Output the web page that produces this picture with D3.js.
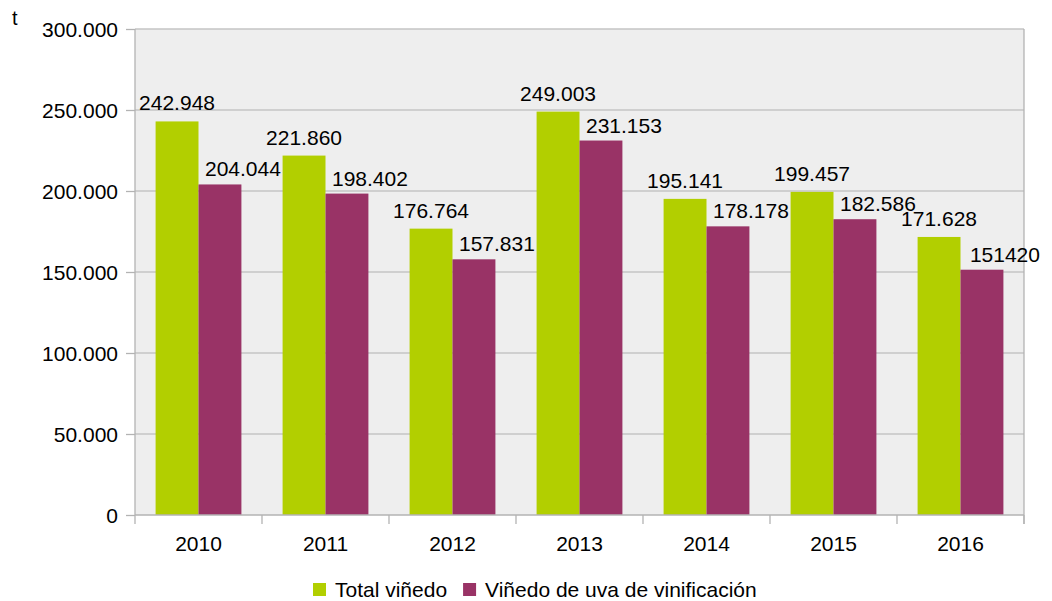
<!DOCTYPE html>
<html>
<head>
<meta charset="utf-8">
<script src="https://cdn.jsdelivr.net/npm/d3@7"></script>
<style>
  html, body { margin: 0; padding: 0; background: #ffffff; }
  svg { display: block; font-family: "Liberation Sans", Arial, sans-serif; }
</style>
</head>
<body>
<svg id="chart" width="1052" height="601"></svg>
<script>
const categories = ["2010", "2011", "2012", "2013", "2014", "2015", "2016"];
const seriesNames = ["Total viñedo", "Viñedo de uva de vinificación"];
const totalVinedo = [242948, 221860, 176764, 249003, 195141, 199457, 171628];
const vinedoVinificacion = [204044, 198402, 157831, 231153, 178178, 182586, 151420];
const totalLabels = ["242.948", "221.860", "176.764", "249.003", "195.141", "199.457", "171.628"];
const vinifLabels = ["204.044", "198.402", "157.831", "231.153", "178.178", "182.586", "151420"];
const yTicks = [0, 50000, 100000, 150000, 200000, 250000, 300000];
const colors = ["#b2cf00", "#993366"];

(function () {
const svg = d3.select("#chart");
const pL = 135, pR = 1024, pT = 29, pB = 515;

const loc = d3.formatLocale({decimal: ",", thousands: ".", grouping: [3], currency: ["", ""]});
const fmt = loc.format(",d");

const xCat = d3.scaleBand().domain(categories).range([pL, pR]).padding(0);
const xSub = d3.scaleBand().domain([0, 1]).range([0, xCat.bandwidth()])
  .paddingInner(0).paddingOuter(0.48);
const y = d3.scaleLinear().domain([0, 300000]).range([pB, pT]);

// plot background
svg.append("rect").attr("x", pL).attr("y", pT).attr("width", pR - pL).attr("height", pB - pT)
  .attr("fill", "#eeeeee");

// gridlines
svg.append("g").selectAll("line").data(yTicks.filter(d => d > 0)).join("line")
  .attr("x1", pL).attr("x2", pR)
  .attr("y1", d => y(d)).attr("y2", d => y(d))
  .attr("stroke", "#c4c4c4").attr("stroke-width", 1.3);

// bars
const series = [totalVinedo, vinedoVinificacion];
const barsG = svg.append("g");
series.forEach((vals, si) => {
  barsG.selectAll(null).data(vals).join("rect")
    .attr("x", (d, i) => xCat(categories[i]) + xSub(si))
    .attr("y", d => y(d))
    .attr("width", xSub.bandwidth())
    .attr("height", d => y(0) - y(d))
    .attr("fill", colors[si]);
});

// right border
svg.append("line").attr("x1", pR).attr("x2", pR).attr("y1", pT).attr("y2", pB + 9)
  .attr("stroke", "#b3b3b3").attr("stroke-width", 1.3);

// left axis
const yAxis = d3.axisLeft(y).tickValues(yTicks).tickSize(9).tickPadding(8)
  .tickFormat(d => d === 0 ? "0" : fmt(d));
const gy = svg.append("g").attr("transform", `translate(${pL},0)`).call(yAxis);
gy.select(".domain").attr("stroke", "#b3b3b3").attr("stroke-width", 1.3).attr("d", `M0,${pT}V${pB}`);
gy.selectAll(".tick line").attr("stroke", "#b3b3b3").attr("stroke-width", 1.3);
gy.selectAll(".tick text").attr("fill", "#000").style("font-size", "21px")
  .style("font-family", "'Liberation Sans', Arial, sans-serif").attr("dy", "0.36em");

// bottom axis
const gx = svg.append("g");
gx.append("line").attr("x1", pL).attr("x2", pR).attr("y1", pB).attr("y2", pB)
  .attr("stroke", "#b3b3b3").attr("stroke-width", 1.3);
const boundaries = categories.map(c => xCat(c)).concat([xCat.range()[1]]);
gx.selectAll("line.tk").data(boundaries).join("line").attr("class", "tk")
  .attr("x1", d => d).attr("x2", d => d).attr("y1", pB).attr("y2", pB + 9)
  .attr("stroke", "#b3b3b3").attr("stroke-width", 1.3);
gx.selectAll("text").data(categories).join("text")
  .attr("x", d => xCat(d) + xCat.bandwidth() / 2).attr("y", 551)
  .attr("text-anchor", "middle").style("font-size", "21px").attr("fill", "#000")
  .text(d => d);

// data labels
const lab = svg.append("g").style("font-size", "21px").attr("fill", "#000");
lab.selectAll("text.t").data(totalVinedo).join("text").attr("class", "t")
  .attr("x", (d, i) => xCat(categories[i]) + xSub(0) + xSub.bandwidth() / 2)
  .attr("y", d => y(d) - 11)
  .attr("text-anchor", "middle")
  .text((d, i) => totalLabels[i]);
lab.selectAll("text.v").data(vinedoVinificacion).join("text").attr("class", "v")
  .attr("x", (d, i) => xCat(categories[i]) + xSub(1) + xSub.bandwidth() / 2 + 23)
  .attr("y", d => y(d) - 8)
  .attr("text-anchor", "middle")
  .text((d, i) => vinifLabels[i]);

// unit label
svg.append("text").attr("x", 12).attr("y", 25).style("font-size", "20px").attr("fill", "#000").text("t");

// legend
const leg = svg.append("g");
let lx = 313;
seriesNames.forEach((name, i) => {
  leg.append("rect").attr("x", lx).attr("y", 583).attr("width", 13).attr("height", 13).attr("fill", colors[i]);
  const t = leg.append("text").attr("x", lx + 22).attr("y", 597).style("font-size", "21px").attr("fill", "#000").text(name);
  lx = lx + 22 + t.node().getComputedTextLength() + 16;
});
})();
</script>
</body>
</html>
